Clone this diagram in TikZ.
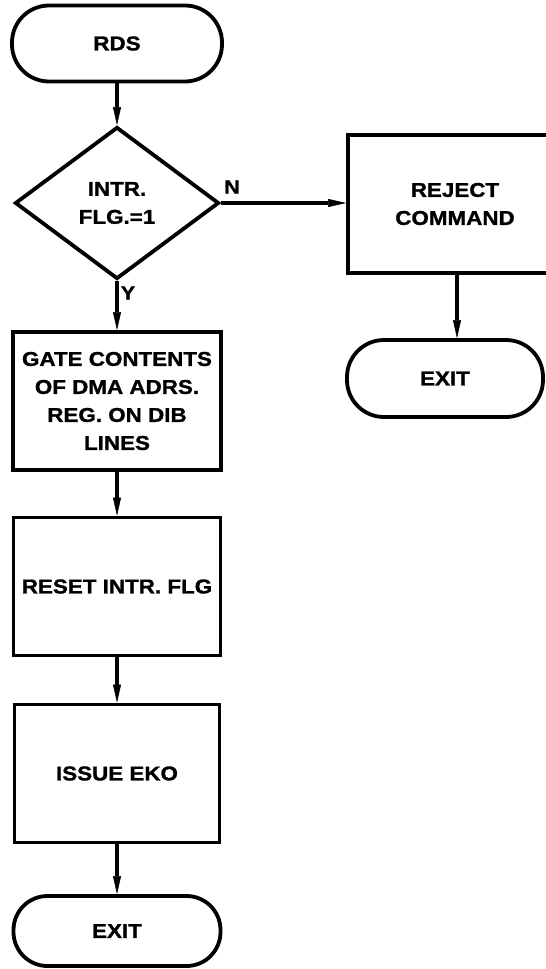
\documentclass[tikz,border=0pt]{standalone}
\usepackage{fontspec}
\newfontfamily\flowfont{Liberation Sans}[FakeStretch=1.12, FakeBold=1.2]
\usetikzlibrary{shapes.geometric,arrows.meta}
\begin{document}
\begin{tikzpicture}[x=1pt,y=-1pt,
  every node/.style={font=\flowfont\bfseries\fontsize{20}{28}\selectfont, align=center, inner sep=0pt},
  box/.style={draw, line width=3.8pt, minimum height=138pt},
  term/.style={draw, line width=3.8pt, rounded corners=37pt, minimum height=76pt},
  dec/.style={draw, diamond, line width=3.8pt, aspect=1.35, minimum width=204pt, minimum height=152pt},
  conn/.style={line width=3.4pt, -{Triangle[length=18pt,width=8pt,line width=0.5pt]}},
  lbl/.style={font=\flowfont\bfseries\fontsize{19}{20}\selectfont}]
\useasboundingbox (0,0) rectangle (546,969);
\clip (0,0) rectangle (546,969);
\fill[white] (0,0) rectangle (546,969);

\node[term, minimum width=210pt] (rds) at (117,43.5) {RDS};
\node[dec] (intr) at (117,203) {INTR.\\FLG.=1};
\node[box, minimum width=208pt] (gate) at (117,401) {GATE CONTENTS\\OF DMA ADRS.\\REG. ON DIB\\LINES};
\node[box, minimum width=207pt] (reset) at (117,586.5) {RESET INTR. FLG};
\node[box, minimum width=205pt] (issue) at (117,773.5) {ISSUE EKO};
\node[term, minimum width=207pt, minimum height=70pt, rounded corners=34pt] (exitl) at (117,931) {EXIT};

\node[box, minimum width=214pt] (reject) at (455,204) {REJECT\\COMMAND};
\node[term, minimum width=196pt, minimum height=77pt] (exitr) at (445,378.5) {EXIT};

\node[lbl] (nlab) at (232,187) {N};
\node[lbl] (ylab) at (128,293) {Y};

\draw[conn] (rds.south) -- (intr.north);
\draw[conn] (intr.south) -- (gate.north);
\draw[conn] (gate.south) -- (reset.north);
\draw[conn] (reset.south) -- (issue.north);
\draw[conn] (issue.south) -- (exitl.north);
\draw[conn] (intr.east) -- (intr.east -| reject.west);
\draw[conn] (reject.south) ++(2,0) coordinate (rs) -- (rs |- exitr.north);
\end{tikzpicture}
\end{document}
